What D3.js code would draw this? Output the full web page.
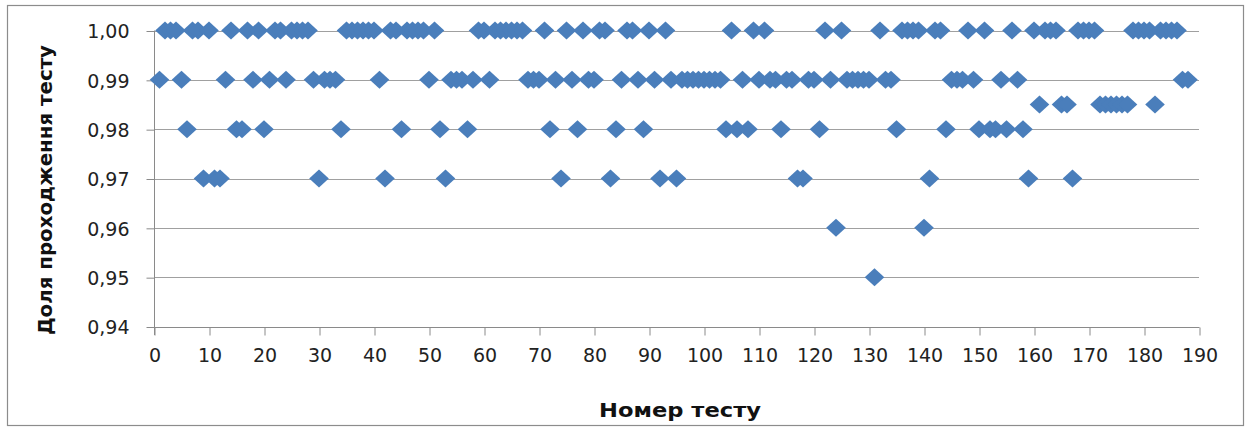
<!DOCTYPE html>
<html><head><meta charset="utf-8">
<script src="https://cdn.jsdelivr.net/npm/d3@7"></script>
<style>body{margin:0;background:#fff} svg{display:block}</style>
</head><body><svg id="chart" width="1251" height="430"></svg>
<script>
// ---- data ----
const xTickValues = [0,10,20,30,40,50,60,70,80,90,100,110,120,130,140,150,160,170,180,190];
const yTickValues = [0.94,0.95,0.96,0.97,0.98,0.99,1.00];
const yTickLabels = ["0,94","0,95","0,96","0,97","0,98","0,99","1,00"];
const xTitle = "Номер тесту";
const yTitle = "Доля проходження тесту";

// test numbers grouped by pass rate
const testsAt100 = [2,3,4,7,8,10,14,17,19,22,23,25,26,27,28,35,36,37,38,39,40,43,44,46,47,48,49,51,59,60,62,63,64,65,66,67,71,75,78,81,82,86,87,90,93,105,109,111,122,125,132,136,137,138,139,142,143,148,151,156,160,162,163,164,168,169,170,171,178,179,180,181,183,184,185,186];
const testsAt099 = [1,5,13,18,21,24,29,31,32,33,41,50,54,55,56,58,61,68,69,70,73,76,79,80,85,88,91,94,96,97,98,99,100,101,102,103,107,110,112,113,115,116,119,120,123,126,127,128,129,130,133,134,145,146,147,149,154,157,187,188];
const testsAt0985 = [161,165,166,172,173,174,175,176,177,182];
const testsAt098 = [6,15,16,20,34,45,52,57,72,77,84,89,104,106,108,114,121,135,144,150,152,153,155,158];
const testsAt097 = [9,11,12,30,42,53,74,83,92,95,117,118,141,159,167];
const testsAt096 = [124,140];
const testsAt095 = [131];

const rateGroups = [
  {rate:1.00, tests:testsAt100},
  {rate:0.99, tests:testsAt099},
  {rate:0.985, tests:testsAt0985},
  {rate:0.98, tests:testsAt098},
  {rate:0.97, tests:testsAt097},
  {rate:0.96, tests:testsAt096},
  {rate:0.95, tests:testsAt095}
];
const points = rateGroups.flatMap(g => g.tests.map(t => ({test:t, rate:g.rate})));

// ---- layout ----
const svg = d3.select("#chart");
const plotLeft = 154, plotRight = 1199, plotTop = 30.5, plotBottom = 326.5;
const x = d3.scaleLinear().domain([0,190]).range([plotLeft,plotRight]);
const y = d3.scaleLinear().domain([0.94,1.00]).range([plotBottom,plotTop]);
const gridColor = "#a0a0a0", axisColor = "#8a8a8a";

// outer frame
svg.append("rect").attr("x",7.5).attr("y",5.5).attr("width",1236).attr("height",420)
  .attr("fill","#fff").attr("stroke","#8c8c8c").attr("stroke-width",1.2);

// gridlines
svg.append("g").selectAll("line").data(yTickValues.filter(v => v > 0.9401)).join("line")
  .attr("x1",plotLeft).attr("x2",plotRight)
  .attr("y1",d => Math.round(y(d))+0.5).attr("y2",d => Math.round(y(d))+0.5)
  .attr("stroke",gridColor).attr("stroke-width",1);

// y axis
const yAxis = d3.axisLeft(y).tickValues(yTickValues).tickSize(8).tickPadding(17)
  .tickFormat((d,i) => yTickLabels[i]);
const gy = svg.append("g").attr("transform",`translate(${plotLeft+0.5},0.5)`).call(yAxis);
gy.select(".domain").attr("stroke",axisColor).attr("d",`M0,${plotTop-0.5}V${plotBottom+8}`);
gy.selectAll(".tick line").attr("stroke",axisColor);
gy.selectAll(".tick text").attr("font-family","DejaVu Sans").attr("font-size",19).attr("fill","#222")
  .attr("dy","0.36em");

// x axis
const xAxis = d3.axisBottom(x).tickValues(xTickValues).tickSize(8).tickPadding(13)
  .tickFormat(d => String(d));
const gx = svg.append("g").attr("transform",`translate(0.5,${Math.round(plotBottom)+0.5})`).call(xAxis);
gx.select(".domain").attr("stroke",axisColor).attr("d",`M${plotLeft},0H${plotRight}`);
gx.selectAll(".tick line").attr("stroke",axisColor);
gx.selectAll(".tick text").attr("font-family","DejaVu Sans").attr("font-size",19).attr("fill","#222");

// diamonds
const hw = 9.8, hh = 9;
svg.append("g").selectAll("path").data(points).join("path")
  .attr("transform",d => `translate(${x(d.test)},${y(d.rate)})`)
  .attr("d",`M0,${-hh}L${hw},0L0,${hh}L${-hw},0Z`)
  .attr("fill","#4a7ebb");

// axis titles
svg.append("text").attr("x",680).attr("y",417).attr("text-anchor","middle")
  .attr("font-family","DejaVu Sans").attr("font-weight","bold").attr("font-size",19)
  .attr("textLength",162).attr("lengthAdjust","spacingAndGlyphs")
  .attr("fill","#111").text(xTitle);
svg.append("text").attr("transform","translate(52,190) rotate(-90)").attr("text-anchor","middle")
  .attr("font-family","DejaVu Sans").attr("font-weight","bold").attr("font-size",20)
  .attr("textLength",290).attr("lengthAdjust","spacingAndGlyphs")
  .attr("fill","#111").text(yTitle);
</script></body></html>
